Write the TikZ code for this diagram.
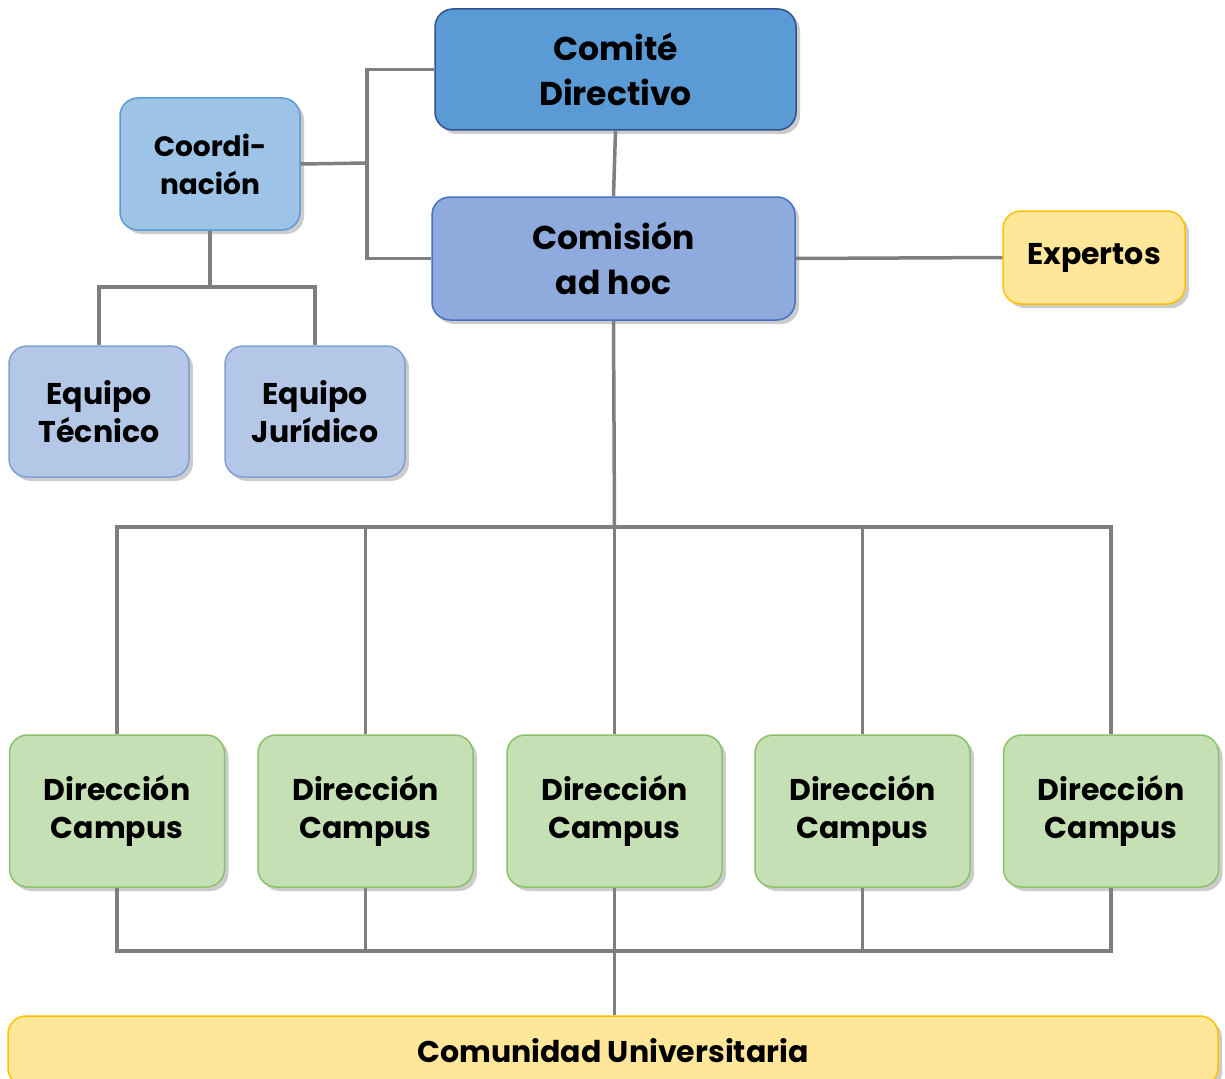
\documentclass[tikz,border=0pt]{standalone}
\usepackage{fontspec}
\setmainfont{Poppins}
\usetikzlibrary{shadows}
\definecolor{lineg}{HTML}{7F7F7F}
\definecolor{cdfill}{HTML}{5B9BD5}
\definecolor{cddraw}{HTML}{2F528F}
\definecolor{cafill}{HTML}{8FAADC}
\definecolor{cadraw}{HTML}{4472C4}
\definecolor{cofill}{HTML}{9DC3E6}
\definecolor{codraw}{HTML}{5B9BD5}
\definecolor{eqfill}{HTML}{B4C7E7}
\definecolor{eqdraw}{HTML}{7F9FD5}
\definecolor{yfill}{HTML}{FFE699}
\definecolor{ydraw}{HTML}{FFC000}
\definecolor{gfill}{HTML}{C5E0B4}
\definecolor{gdraw}{HTML}{8CC06A}
\tikzset{
  box/.style={rounded corners=18pt, line width=1.5pt, align=center, inner sep=0pt,
    font=\bfseries\fontsize{30}{38}\selectfont,
    drop shadow={shadow xshift=4pt, shadow yshift=-4pt, opacity=0.2, fill=black}},
  conn/.style={draw=lineg, line width=3.5pt},
}
\begin{document}
\begin{tikzpicture}[x=1pt,y=-1pt]
\useasboundingbox (0,0) rectangle (1225,1078);
% nodes
\node[box, fill=cdfill, draw=cddraw, minimum width=361pt, minimum height=121pt,
  font=\bfseries\fontsize{33}{45}\selectfont] (comite) at (615.5,69.5) {Comité\\Directivo};
\node[box, fill=cafill, draw=cadraw, minimum width=363pt, minimum height=123pt,
  font=\bfseries\fontsize{33}{45}\selectfont] (comision) at (613.5,258.5) {Comisión\\ad hoc};
\node[box, fill=cofill, draw=codraw, minimum width=180pt, minimum height=132pt,
  font=\bfseries\fontsize{28}{38}\selectfont] (coord) at (210,164) {Coordi-\\nación};
\node[box, fill=eqfill, draw=eqdraw, minimum width=180pt, minimum height=131pt] (tec) at (99,411.5) {Equipo\\Técnico};
\node[box, fill=eqfill, draw=eqdraw, minimum width=180pt, minimum height=131pt] (jur) at (315,411.5) {Equipo\\Jurídico};
\node[box, fill=yfill, draw=ydraw, minimum width=182pt, minimum height=93pt] (exp) at (1094,257.5) {Expertos};
\foreach \i/\x in {1/117,2/365.5,3/614.5,4/862.5,5/1111}{
  \node[box, fill=gfill, draw=gdraw, minimum width=215pt, minimum height=152pt] (dc\i) at (\x,811) {Dirección\\Campus};
}
\node[box, fill=yfill, draw=ydraw, minimum width=1210pt, minimum height=70pt] (com) at (613,1051) {Comunidad Universitaria};
% connectors
\coordinate (vx) at (367,163);
\draw[conn] (comite.south) -- (comision.north);
\draw[conn] (coord.east) -- (vx);
\draw[conn] (comite.west) -| (vx) |- (comision.west);
\coordinate (eqbar) at (210,287);
\draw[conn] (coord.south) -- (eqbar);
\draw[conn] (tec.north) |- (eqbar) -| (jur.north);
\draw[conn] (comision.east) -- (exp.west);
\coordinate (topbar) at (614.5,527);
\draw[conn] (comision.south) -- (topbar);
\draw[conn] (dc1.north) |- (topbar) -| (dc5.north);
\foreach \i in {2,3,4}{\draw[conn] (dc\i.north) -- (dc\i.north |- topbar);}
\coordinate (botbar) at (614.5,951);
\draw[conn] (dc1.south) |- (botbar) -| (dc5.south);
\foreach \i in {2,3,4}{\draw[conn] (dc\i.south) -- (dc\i.south |- botbar);}
\draw[conn] (botbar) -- (com.north -| botbar);
\end{tikzpicture}
\end{document}
